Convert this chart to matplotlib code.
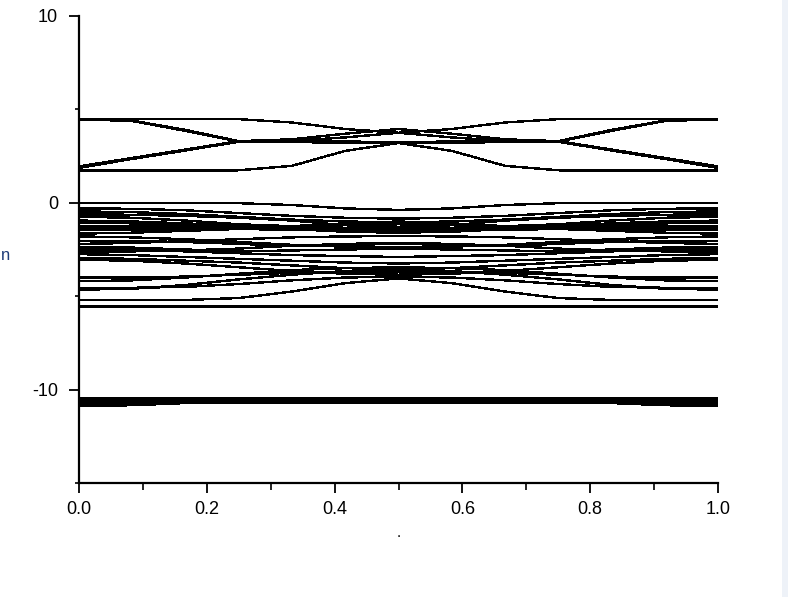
import matplotlib
matplotlib.use("Agg")
import matplotlib.pyplot as plt
from matplotlib.patches import Rectangle
from matplotlib.ticker import MultipleLocator, FixedLocator

# k-points along the half path (the path is mirror-symmetric about 0.5)
k_half = [0.0, 0.0833, 0.1667, 0.25, 0.3333, 0.4167, 0.5]

# conduction bands (eV) at k_half
conduction = [
    [1.72, 1.72, 1.72, 1.74, 1.98, 2.78, 3.20],
    [1.87, 2.35, 2.80, 3.27, 3.25, 3.22, 3.20],
    [1.95, 2.40, 2.85, 3.30, 3.30, 3.28, 3.25],
    [4.47, 4.38, 3.85, 3.28, 3.32, 3.50, 3.75],
    [4.47, 4.40, 3.90, 3.30, 3.40, 3.70, 3.95],
    [4.50, 4.50, 4.50, 4.48, 4.30, 3.95, 3.75],
]

# valence bands (eV) at k_half
valence = [
    [0.00, 0.00, 0.00, -0.02, -0.12, -0.30, -0.38],
    [-0.30, -0.32, -0.40, -0.55, -0.70, -0.80, -0.85],
    [-0.46, -0.50, -0.60, -0.75, -0.90, -1.00, -1.05],
    [-0.62, -0.64, -0.70, -0.80, -0.95, -1.20, -1.30],
    [-0.75, -0.80, -0.95, -1.15, -1.25, -1.35, -1.40],
    [-0.95, -1.00, -1.10, -1.25, -1.35, -1.45, -1.50],
    [-1.05, -1.10, -1.20, -1.30, -1.40, -1.55, -1.60],
    [-1.25, -1.25, -1.28, -1.30, -1.32, -1.35, -1.35],
    [-1.35, -1.36, -1.38, -1.40, -1.45, -1.50, -1.50],
    [-1.45, -1.45, -1.42, -1.40, -1.25, -1.10, -1.00],
    [-1.65, -1.60, -1.50, -1.40, -1.30, -1.20, -1.15],
    [-1.80, -1.85, -1.95, -2.10, -2.25, -2.35, -2.40],
    [-2.05, -2.05, -2.10, -2.20, -2.30, -2.25, -2.20],
    [-2.20, -2.15, -2.05, -1.95, -1.85, -1.80, -1.78],
    [-2.35, -2.40, -2.50, -2.60, -2.55, -2.50, -2.45],
    [-2.45, -2.50, -2.60, -2.70, -2.80, -2.85, -2.90],
    [-2.60, -2.60, -2.55, -2.45, -2.30, -2.20, -2.15],
    [-2.75, -2.80, -2.90, -3.00, -3.10, -3.20, -3.25],
    [-2.95, -3.00, -3.10, -3.20, -3.35, -3.50, -3.55],
    [-3.05, -3.10, -3.25, -3.45, -3.65, -3.80, -3.85],
    [-4.00, -4.00, -3.95, -3.85, -3.75, -3.70, -3.70],
    [-4.20, -4.15, -4.00, -3.80, -3.60, -3.50, -3.45],
    [-4.65, -4.60, -4.40, -4.10, -3.85, -3.65, -3.60],
    [-4.55, -4.55, -4.50, -4.35, -4.15, -4.00, -3.95],
    [-5.20, -5.20, -5.20, -5.10, -4.75, -4.30, -4.05],
    [-5.55, -5.55, -5.55, -5.55, -5.55, -5.55, -5.55],
]

# semicore bands (eV) at k_half
semicore = [
    [-10.43, -10.43, -10.43, -10.43, -10.43, -10.43, -10.43],
    [-10.48, -10.48, -10.48, -10.48, -10.48, -10.48, -10.48],
    [-10.52, -10.52, -10.52, -10.52, -10.52, -10.52, -10.52],
    [-10.57, -10.57, -10.57, -10.57, -10.57, -10.57, -10.57],
    [-10.62, -10.62, -10.62, -10.62, -10.62, -10.62, -10.62],
    [-10.67, -10.67, -10.67, -10.67, -10.67, -10.67, -10.67],
    [-10.85, -10.84, -10.72, -10.68, -10.68, -10.68, -10.68],
]

x_ticks = [0.0, 0.2, 0.4, 0.6, 0.8, 1.0]
x_tick_labels = ["0.0", "0.2", "0.4", "0.6", "0.8", "1.0"]
y_ticks = [-10, 0, 10]
y_tick_labels = ["-10", "0", "10"]

plt.rcParams['font.family'] = ['Liberation Sans', 'DejaVu Sans']

fig = plt.figure(figsize=(7.88, 6.14), dpi=100)
fig.patch.set_facecolor("white")
ax = fig.add_axes([79 / 788, 1 - 483 / 614, (718 - 79) / 788, (483 - 16) / 614])

k_full = k_half + [1.0 - k for k in reversed(k_half[:-1])]

def full(vals):
    return list(vals) + list(reversed(vals[:-1]))

for group in (conduction, valence, semicore):
    for band in group:
        ax.plot(k_full, full(band), color="black", lw=1.0, antialiased=False,
                solid_joinstyle="miter")

ax.set_xlim(0, 1)
ax.set_ylim(-15, 10)

for s in ("top", "right"):
    ax.spines[s].set_visible(False)
for s in ("left", "bottom"):
    ax.spines[s].set_linewidth(1.6)
    ax.spines[s].set_color("black")

ax.xaxis.set_major_locator(FixedLocator(x_ticks))
ax.set_xticklabels(x_tick_labels)
ax.xaxis.set_minor_locator(MultipleLocator(0.1))
ax.yaxis.set_major_locator(FixedLocator(y_ticks))
ax.set_yticklabels(y_tick_labels)
ax.yaxis.set_minor_locator(FixedLocator([-15, -5, 5]))

ax.tick_params(axis="both", which="major", direction="out", length=7, width=1.3,
               labelsize=13, colors="black")
ax.tick_params(axis="x", which="minor", direction="out", length=5, width=1.2)
ax.tick_params(axis="y", which="minor", direction="out", length=3, width=1.2)
ax.tick_params(axis="x", which="major", pad=6)
ax.tick_params(axis="y", which="major", pad=8)

ax.set_xlabel(".", fontsize=11, labelpad=6)

fig.text(1 / 788, 1 - 255 / 614, "n", color="#1f3c78", fontsize=12,
         ha="left", va="center")

fig.patches.append(Rectangle((782 / 788, 1 - 597 / 614), 6 / 788, 597 / 614,
                             transform=fig.transFigure, facecolor="#eef2f8",
                             edgecolor="none"))

fig.savefig("out.png", dpi=100)
